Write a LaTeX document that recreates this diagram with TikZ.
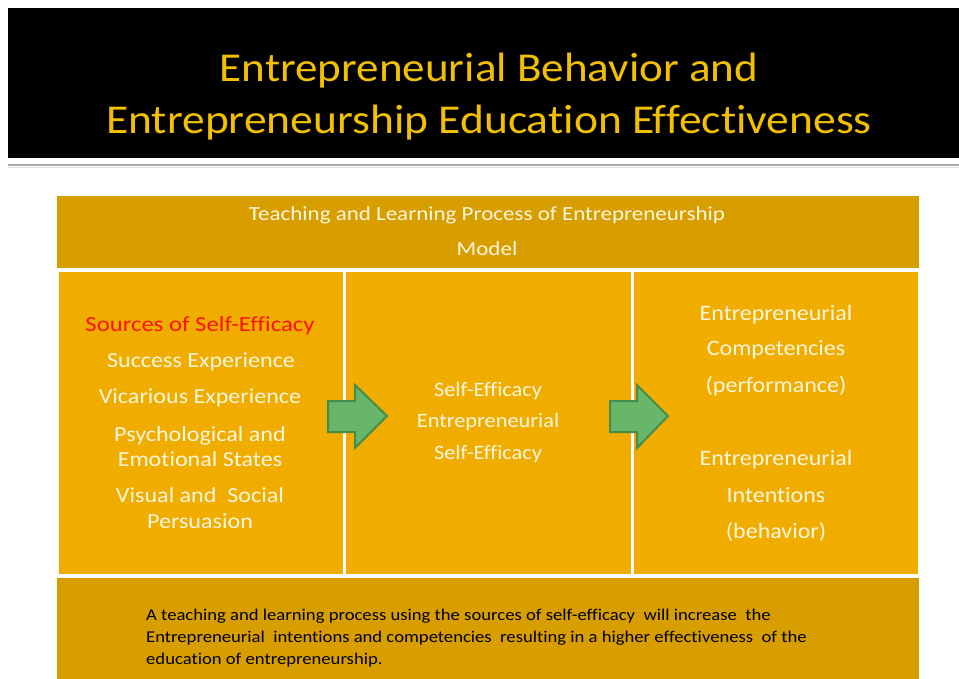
\documentclass[tikz,border=0pt]{standalone}
\usepackage{graphicx}
\usepackage{fontspec}
\setmainfont{Carlito}[Ligatures=NoCommon]
\newcommand{\hstretch}[2]{\scalebox{#1}[1]{#2}}
\definecolor{titlegold}{RGB}{242,192,0}
\definecolor{darkgold}{RGB}{216,158,0}
\definecolor{colgold}{RGB}{240,173,0}
\definecolor{cream}{RGB}{255,246,222}
\definecolor{redsrc}{RGB}{250,20,0}
\definecolor{arrowgreen}{RGB}{104,182,106}
\definecolor{arrowdark}{RGB}{70,140,76}
\tikzset{
  banner/.style={fill=black, draw=none},
  band/.style={fill=darkgold, draw=white, line width=1.5pt},
  colbox/.style={fill=colgold, draw=white, line width=2pt},
  titletext/.style={text=titlegold, font=\fontsize{41}{49}\selectfont, inner sep=0pt, anchor=base},
  headtext/.style={text=cream, font=\fontsize{20}{22}\selectfont, inner sep=0pt, anchor=base},
  ltext/.style={text=cream, font=\fontsize{21.5}{25}\selectfont, inner sep=0pt, anchor=base},
  mtext/.style={text=cream, font=\fontsize{20.5}{25}\selectfont, inner sep=0pt, anchor=base},
  rtext/.style={text=cream, font=\fontsize{22}{25}\selectfont, inner sep=0pt, anchor=base},
  btext/.style={text=black, font=\fontsize{16.5}{22}\selectfont, inner sep=0pt, anchor=base west},
  greenarrow/.style={fill=arrowgreen, draw=arrowdark, line width=2pt, line join=miter}
}
\begin{document}
\begin{tikzpicture}[x=1pt, y=-1pt]
\useasboundingbox (0,0) rectangle (959,679);
\fill[white] (0,0) rectangle (959,679);
% banner
\fill[banner] (8,8) rectangle (959,158);
\draw[gray!70, line width=2.5pt] (8,165) -- (959,165);
\draw[gray!25, line width=1pt] (8,168) -- (959,168);
\node[titletext] (t1) at (489,82) {\hstretch{1.1}{Entrepreneurial Behavior and}};
\node[titletext] (t2) at (489,134) {\hstretch{1.11}{Entrepreneurship Education Effectiveness}};
% header band
\path[band] (56,195) rectangle (920,269);
\node[headtext] (h1) at (487,221) {\hstretch{1.15}{Teaching and Learning Process of Entrepreneurship}};
\node[headtext] (h2) at (487,256) {\hstretch{1.15}{Model}};
% columns
\path[colbox] (58,271) rectangle (344,575);
\path[colbox] (345,271) rectangle (632,575);
\path[colbox] (633,271) rectangle (919,575);
% bottom band
\path[band] (56,577) rectangle (920,690);
% left column text
\node[ltext, text=redsrc] (l1) at (200,331) {\hstretch{1.15}{Sources of Self-Efficacy}};
\node[ltext] (l2) at (201,367) {\hstretch{1.12}{Success Experience}};
\node[ltext] (l3) at (200,403) {\hstretch{1.12}{Vicarious Experience}};
\node[ltext] (l4) at (200,441) {\hstretch{1.12}{Psychological and}};
\node[ltext] (l5) at (200,466) {\hstretch{1.12}{Emotional States}};
\node[ltext] (l6) at (200,502) {\hstretch{1.12}{Visual and\ \ Social}};
\node[ltext] (l7) at (200,528) {\hstretch{1.12}{Persuasion}};
% middle column text
\node[mtext] (m1) at (488,396) {\hstretch{1.09}{Self-Efficacy}};
\node[mtext] (m2) at (488,427) {\hstretch{1.09}{Entrepreneurial}};
\node[mtext] (m3) at (488,459) {\hstretch{1.09}{Self-Efficacy}};
% right column text
\node[rtext] (r1) at (776,320) {\hstretch{1.09}{Entrepreneurial}};
\node[rtext] (r2) at (776,355) {\hstretch{1.09}{Competencies}};
\node[rtext] (r3) at (776,392) {\hstretch{1.09}{(performance)}};
\node[rtext] (r4) at (776,465) {\hstretch{1.09}{Entrepreneurial}};
\node[rtext] (r5) at (776,502) {\hstretch{1.09}{Intentions}};
\node[rtext] (r6) at (776,538) {\hstretch{1.09}{(behavior)}};
% arrows
\draw[greenarrow] (328,401) -- (355,401) -- (355,385) -- (387,416) -- (355,448) -- (355,432) -- (328,432) -- cycle;
\draw[greenarrow] (610,401) -- (637,401) -- (637,385) -- (668,416) -- (637,448) -- (637,432) -- (610,432) -- cycle;
% bottom text
\node[btext] (b1) at (146,620) {\hstretch{1.13}{A teaching and learning process using the sources of self-efficacy\ \ will increase\ \ the}};
\node[btext] (b2) at (146,642) {\hstretch{1.13}{Entrepreneurial\ \ intentions and competencies\ \ resulting in a higher effectiveness\ \ of the}};
\node[btext] (b3) at (146,664) {\hstretch{1.13}{education of entrepreneurship.}};
\end{tikzpicture}
\end{document}
